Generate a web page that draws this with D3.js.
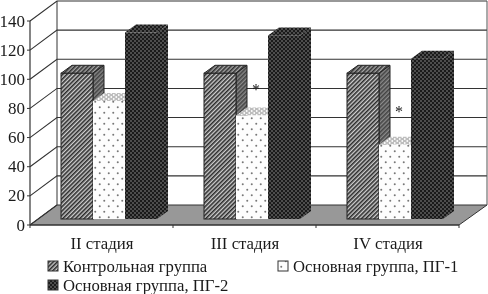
<!DOCTYPE html>
<html>
<head>
<meta charset="utf-8">
<script src="https://cdn.jsdelivr.net/npm/d3@7"></script>
<style>
  html, body { margin: 0; padding: 0; background: #fff; }
  svg { display: block; filter: blur(0.35px); }
  text { font-family: "Liberation Serif", serif; fill: #1a1a1a; }
</style>
</head>
<body>
<svg id="chart" width="488" height="294"></svg>
<script>
const categories = ["II стадия", "III стадия", "IV стадия"];
const seriesNames = ["Контрольная группа", "Основная группа, ПГ-1", "Основная группа, ПГ-2"];
const control = [100, 100, 100];
const pg1 = [81, 71, 51];
const pg2 = [128, 126, 110];
const starLevels = [null, 90, 75];
const yTicks = [0, 20, 40, 60, 80, 100, 120, 140];

const svg = d3.select("#chart");
const defs = svg.append("defs");

// ---------- patterns ----------
function hatch(id, bg, line) {
  const p = defs.append("pattern").attr("id", id).attr("patternUnits", "userSpaceOnUse")
    .attr("width", 3).attr("height", 3).attr("patternTransform", "rotate(45)");
  p.append("rect").attr("width", 3).attr("height", 3).attr("fill", bg);
  p.append("rect").attr("width", 1.6).attr("height", 3).attr("fill", line);
}
hatch("hatch", "#cfcfcf", "#2c2c2c");
hatch("hatchSide", "#8a8a8a", "#444");
hatch("hatchTop", "#a8a8a8", "#333");

function dots(id, bg, dot, w, h, r) {
  const p = defs.append("pattern").attr("id", id).attr("patternUnits", "userSpaceOnUse")
    .attr("width", w).attr("height", h);
  p.append("rect").attr("width", w).attr("height", h).attr("fill", bg);
  p.append("circle").attr("cx", w / 4).attr("cy", h / 4).attr("r", r).attr("fill", dot);
  p.append("circle").attr("cx", 3 * w / 4).attr("cy", 3 * h / 4).attr("r", r).attr("fill", dot);
}
dots("sparse", "#fdfdfd", "#777", 9, 11, 1);
dots("sparseTop", "#bdbdbd", "#fff", 5, 4, 0.9);
dots("dense", "#1a1a1a", "#8e8e8e", 4, 4, 0.8);

const fills = [
  { front: "url(#hatch)", side: "url(#hatchSide)", top: "url(#hatchTop)", stroke: "#222" },
  { front: "url(#sparse)", side: "url(#sparseTop)", top: "url(#sparseTop)", stroke: "none" },
  { front: "url(#dense)", side: "url(#dense)", top: "url(#dense)", stroke: "none" },
];

// ---------- scales ----------
const depth = 27, rise = 20;       // wall offset
const barDepth = 11, barRise = 8;  // bar offset
const y = d3.scaleLinear().domain([0, 140]).range([225, 21]);
const yBar = d3.scaleLinear().domain([0, 140]).range([219, 15]);
const x0 = d3.scaleBand().domain(categories).range([30, 459]);
const x1 = d3.scaleBand().domain(d3.range(3)).range([31, 127]);

const lineCol = "#333";

// ---------- floor and walls ----------
const xL = x0.range()[0], xR = x0.range()[1];
svg.append("path")
  .attr("d", `M${xL},${y(0)}L${xL + depth},${y(0) - rise}L${xR + depth + 1},${y(0) - rise}L${xR},${y(0)}Z`)
  .attr("fill", "#989898").attr("stroke", lineCol);

yTicks.forEach((t) => {
  svg.append("path")
    .attr("d", `M${xL},${y(t)}L${xL + depth},${y(t) - rise}` + (t > 0 ? `L${xR + depth + 1},${y(t) - rise}` : ""))
    .attr("fill", "none").attr("stroke", lineCol).attr("stroke-width", 1.1);
});
svg.append("line").attr("x1", xL + depth).attr("x2", xL + depth)
  .attr("y1", y(140) - rise).attr("y2", y(0) - rise).attr("stroke", lineCol);
svg.append("line").attr("x1", xR + depth + 1).attr("x2", xR + depth + 1)
  .attr("y1", y(140) - rise).attr("y2", y(0) - rise).attr("stroke", "#555");

// ---------- bars ----------
const series = [control, pg1, pg2];
categories.forEach((cat, ci) => {
  const g = svg.append("g").attr("transform", `translate(${x0(cat)},0)`);
  [0, 1, 2].forEach((si) => {
    const v = series[si][ci];
    const l = x1(si), r = l + x1.bandwidth();
    const t = yBar(v), b = yBar(0);
    const f = fills[si];
    g.append("path")
      .attr("d", `M${l},${t}L${l + barDepth},${t - barRise}L${r + barDepth},${t - barRise}L${r},${t}Z`)
      .attr("fill", f.top).attr("stroke", f.stroke);
    g.append("path")
      .attr("d", `M${r},${t}L${r + barDepth},${t - barRise}L${r + barDepth},${b - barRise}L${r},${b}Z`)
      .attr("fill", f.side).attr("stroke", f.stroke);
    g.append("rect")
      .attr("x", l).attr("y", t)
      .attr("width", x1.bandwidth()).attr("height", b - t)
      .attr("fill", f.front).attr("stroke", si === 0 ? "#222" : "none");
  });
  if (starLevels[ci] !== null) {
    g.append("text")
      .attr("x", x1(1) + x1.bandwidth() / 2 + 4)
      .attr("y", yBar(starLevels[ci]) + 7)
      .attr("text-anchor", "middle").attr("font-size", 16).text("*");
  }
});

// ---------- axes ----------
svg.append("line").attr("x1", xL).attr("x2", xL).attr("y1", y(140)).attr("y2", y(0))
  .attr("stroke", lineCol).attr("stroke-width", 1.2);
svg.append("line").attr("x1", xL).attr("x2", xR).attr("y1", y(0)).attr("y2", y(0))
  .attr("stroke", lineCol).attr("stroke-width", 1.2);
svg.selectAll(".ytick").data(yTicks).join("line")
  .attr("x1", xL - 3).attr("x2", xL).attr("y1", (d) => y(d)).attr("y2", (d) => y(d))
  .attr("stroke", lineCol);
svg.selectAll(".ylab").data(yTicks).join("text")
  .attr("x", xL - 5).attr("y", (d) => y(d) + 5.5)
  .attr("text-anchor", "end").attr("font-size", 17).text((d) => d);
svg.selectAll(".xtick").data([...categories.map((c) => x0(c)), xR]).join("line")
  .attr("x1", (d) => d).attr("x2", (d) => d).attr("y1", y(0)).attr("y2", y(0) + 3)
  .attr("stroke", lineCol);
svg.selectAll(".xlab").data(categories).join("text")
  .attr("x", (d) => x0(d) + x0.bandwidth() / 2 + 0.5).attr("y", 249)
  .attr("text-anchor", "middle").attr("font-size", 16.8).text((d) => d);

// ---------- legend ----------
const legendPos = [[48, 272], [278, 272], [48, 291]];
const legendFill = ["url(#hatch)", "url(#sparse)", "url(#dense)"];
seriesNames.forEach((name, i) => {
  const [lx, ly] = legendPos[i];
  svg.append("rect").attr("x", lx).attr("y", ly - 11).attr("width", 10).attr("height", 10)
    .attr("fill", legendFill[i]).attr("stroke", "#333");
  svg.append("text").attr("x", lx + 15).attr("y", ly).attr("font-size", 16.7).text(name);
});
</script>
</body>
</html>
